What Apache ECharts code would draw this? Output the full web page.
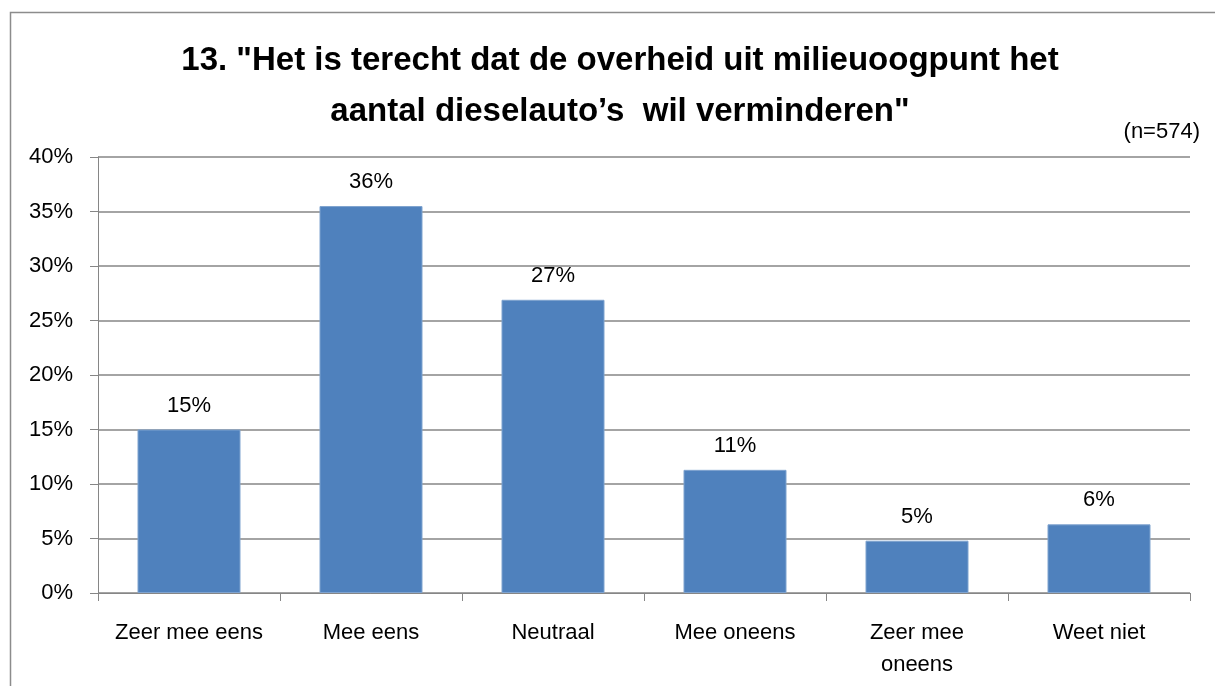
<!DOCTYPE html>
<html lang="nl">
<head>
  <meta charset="UTF-8">
  <title>Dieselauto's</title>
  <script src="https://cdn.jsdelivr.net/npm/echarts@6/dist/echarts.min.js"></script>
  <style>
    html, body, #chart { width: 100%; height: 100%; margin: 0; padding: 0; background: #fff; }
  </style>
</head>
<body>
  <div id="chart"></div>
  <script>
    const categories = ['Zeer mee eens', 'Mee eens', 'Neutraal', 'Mee oneens', 'Zeer mee oneens', 'Weet niet']
    const percentages = [15.0, 35.5, 26.9, 11.3, 4.8, 6.3]
    const yTicks = [0, 5, 10, 15, 20, 25, 30, 35, 40]

    const font = 'Liberation Sans, Arial, sans-serif'
    const chart = echarts.init(document.getElementById('chart'))

    chart.setOption({
      animation: false,
      title: {
        text: '13. "Het is terecht dat de overheid uit milieuoogpunt het\naantal dieselauto\u2019s  wil verminderen"',
        left: 615,
        textAlign: 'center',
        top: 30,
        textStyle: { fontFamily: font, fontWeight: 'bold', fontSize: 33, lineHeight: 51, color: '#000' }
      },
      graphic: [
        {
          type: 'rect',
          shape: { x: 10.5, y: 12.5, width: 1220, height: 700 },
          style: { fill: 'none', stroke: '#8c8c8c', lineWidth: 1.5 },
          silent: true
        },
        {
          type: 'text',
          right: 15,
          top: 121,
          style: { text: '(n=574)', font: '22px ' + font, fill: '#000' }
        }
      ],
      grid: { left: 98, right: 25, top: 157, bottom: 93 },
      xAxis: {
        type: 'category',
        data: categories,
        axisLine: { lineStyle: { color: '#868686', width: 1 } },
        axisTick: { show: true, length: 8, alignWithLabel: false, lineStyle: { color: '#868686' } },
        axisLabel: {
          margin: 24,
          fontFamily: font,
          fontSize: 22,
          lineHeight: 32,
          color: '#000',
          interval: 0,
          formatter: v => v === 'Zeer mee oneens' ? 'Zeer mee\noneens' : v
        }
      },
      yAxis: {
        type: 'value',
        min: 0,
        max: 40,
        interval: 5,
        axisLine: { show: true, lineStyle: { color: '#868686', width: 1 } },
        axisTick: { show: true, length: 8, lineStyle: { color: '#868686' } },
        splitLine: { lineStyle: { color: '#868686', width: 1.5 } },
        axisLabel: {
          margin: 25,
          fontFamily: font,
          fontSize: 22,
          color: '#000',
          formatter: v => yTicks.includes(v) ? v + '%' : ''
        }
      },
      series: [
        {
          type: 'bar',
          data: percentages,
          barWidth: 103,
          itemStyle: { color: '#4f81bd', borderColor: '#7fa3cf', borderWidth: 1 },
          label: {
            show: true,
            position: 'top',
            distance: 13,
            fontFamily: font,
            fontSize: 22,
            color: '#000',
            formatter: p => Math.round(p.value) + '%'
          }
        }
      ]
    })
  </script>
</body>
</html>
